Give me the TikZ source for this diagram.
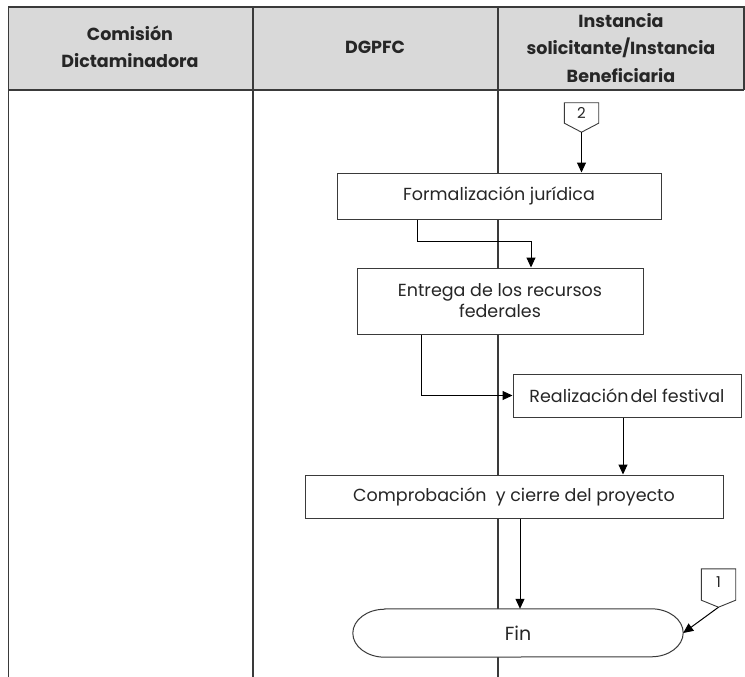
\documentclass[tikz,border=0pt]{standalone}
\usepackage{fontspec}
\setmainfont{Poppins}
\usetikzlibrary{arrows.meta,calc}
\definecolor{rule}{HTML}{3A3A3A}
\definecolor{headfill}{HTML}{D9D9D9}
\definecolor{ink}{HTML}{262626}
\tikzset{
  lane/.style={draw=rule, line width=1.3pt},
  headtxt/.style={font=\bfseries\fontsize{17.5}{27.5}\selectfont, text=ink, align=center},
  procbox/.style={draw=rule, line width=1pt, fill=white, inner sep=0pt, align=center,
    text=ink, font=\fontsize{17.5}{21}\selectfont},
  termtxt/.style={inner sep=0pt, text=ink, font=\fontsize{19}{22}\selectfont},
  termline/.style={draw=rule, line width=1pt, fill=white},
  offtxt/.style={inner sep=0pt, minimum width=34pt, minimum height=20pt, text=ink,
    font=\fontsize{15}{17}\selectfont},
  offshape/.style={draw=rule, line width=0.9pt, fill=white},
  arr/.style={draw=black, line width=1pt, -{Triangle[length=10pt,width=9pt]}},
}
\begin{document}
\begin{tikzpicture}[x=1pt,y=-1pt]
\useasboundingbox (0,0) rectangle (745,677);

% header band
\fill[headfill] (8,7) rectangle (744,90);
\draw[lane] (8,7) -- (744,7) -- (744,90);
\draw[lane] (8,90) -- (744,90);
% lane separators
\draw[lane] (8.5,7) -- (8.5,677);
\draw[lane] (253,7) -- (253,677);
\draw[lane] (498,7) -- (498,677);

% lane titles
\node[headtxt] (h1) at (130,47) {Comisión\\Dictaminadora};
\node[headtxt] (h2) at (375,47) {DGPFC};
\node[headtxt] (h3) at (621,48) {Instancia\\solicitante/Instancia\\Beneficiaria};

% process steps
\node[procbox, minimum width=324pt, minimum height=46pt] (form) at (499,196) {Formalización jurídica};
\node[procbox, minimum width=286pt, minimum height=66pt] (entrega) at (500,301) {Entrega de los recursos\\federales};
\node[procbox, minimum width=228pt, minimum height=43pt] (real) at (627,395.5) {Realización\hspace{2pt}del festival};
\node[procbox, minimum width=418pt, minimum height=43pt] (comp) at (514,496.5) {Comprobación~ y cierre del proyecto};

% terminator with elliptical ends
\node[termtxt, minimum width=330pt, minimum height=48pt] (fin) at (518,633) {};
\draw[termline] ([xshift=32pt]fin.north west) -- ([xshift=-32pt]fin.north east)
  arc[start angle=270, end angle=450, x radius=32, y radius=24]
  -- ([xshift=32pt]fin.south west)
  arc[start angle=90, end angle=270, x radius=32, y radius=24] -- cycle;
\node[termtxt] at (fin) {Fin};

% off-page connectors
\node[offtxt] (c2) at (581.5,113) {};
\draw[offshape] (c2.north west) -- (c2.north east) -- (c2.south east)
  -- ($(c2.south)+(0,9)$) coordinate (c2tip) -- (c2.south west) -- cycle;
\node[offtxt] at (c2) {2};

\node[offtxt, minimum height=31pt] (c1) at (718.5,584.5) {};
\draw[offshape] (c1.north west) -- (c1.north east) -- (c1.south east)
  -- ($(c1.south)+(0,7)$) coordinate (c1tip) -- (c1.south west) -- cycle;
\node[offtxt] at ([yshift=2pt]c1) {1};

% flow
\draw[arr] (c2tip) -- (c2tip |- form.north);
\draw[arr] ([xshift=-82pt]form.south) -- ++(0,22) -| ([xshift=31pt]entrega.north);
\draw[arr] ([xshift=-79pt]entrega.south) |- (real.west);
\draw[arr] ([xshift=-4pt]real.south) -- ([xshift=-4pt]real.south |- comp.north);
\draw[arr] ([xshift=6pt]comp.south) -- ([xshift=6pt]comp.south |- fin.north);
\draw[arr] (c1tip) -- (fin.east);
\end{tikzpicture}
\end{document}
